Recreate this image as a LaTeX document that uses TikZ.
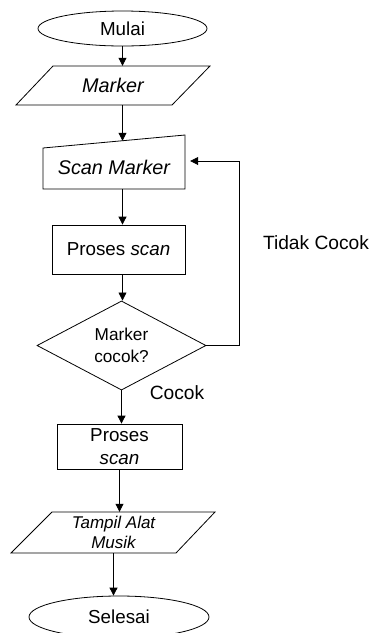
\documentclass[tikz,border=0pt]{standalone}
\usepackage{fontspec}
\setmainfont{Liberation Sans}
\usetikzlibrary{shapes.geometric,arrows.meta}

\begin{document}
\begin{tikzpicture}[
  x=1pt, y=-1pt,
  base/.style={inner sep=0pt, align=center, font=\fontsize{18.8}{23}\selectfont},
  outline/.style={draw, line width=0.8pt},
  term/.style={base, outline, ellipse},
  procbox/.style={base, outline, rectangle},
  decision/.style={base, outline, diamond, font=\fontsize{17.2}{22}\selectfont},
  slanted/.style={base, rectangle},
  arr/.style={-{Triangle[width=8pt,length=8pt]}, line width=0.8pt},
  lbl/.style={inner sep=0pt, font=\fontsize{19.2}{23}\selectfont}
]
% canvas
\useasboundingbox (0,0) rectangle (371,633);

% start / end
\node[term, minimum width=169pt, minimum height=35pt] (mulai) at (122.5,28.5) {Mulai};

% input: Marker
\draw[outline] (53,66) -- (210,66) -- (172,105) -- (16,105) -- cycle;
\node[slanted, minimum width=120pt, minimum height=39pt, font=\fontsize{19.8}{23}\selectfont\itshape] (marker) at (113,85.5) {Marker};

% manual input: Scan Marker
\draw[outline] (43,148) -- (185,135) -- (185,189) -- (43,189) -- cycle;
\node[slanted, minimum width=142pt, minimum height=48pt, text height=22pt, text depth=4pt,
      font=\fontsize{19.8}{23}\selectfont\itshape] (scan) at (114,165) {Scan Marker};

% process
\node[procbox, minimum width=133pt, minimum height=49pt] (proses) at (118.5,249.5) {Proses \textit{scan}};

% decision
\node[decision, minimum width=169pt, minimum height=67pt] (cek) at (121.5,345.5) {Marker\\cocok?};

% second process
\node[procbox, minimum width=125pt, minimum height=45pt] (proses2) at (119.5,446.5) {Proses\\\textit{scan}};

% output: Tampil Alat Musik
\draw[outline] (52,512) -- (215,512) -- (176,553) -- (11,553) -- cycle;
\node[slanted, minimum width=120pt, minimum height=41pt, font=\fontsize{17}{20}\selectfont\itshape] (tampil) at (113.5,532.5) {Tampil Alat\\Musik};

\node[term, minimum width=180pt, minimum height=42pt] (selesai) at (119,617) {Selesai};

% connectors
\draw[arr] (mulai.south) -- (mulai.south |- marker.north);
\draw[arr] (mulai.south |- marker.south) -- (mulai.south |- scan.north);
\draw[arr] (mulai.south |- scan.south) -- (mulai.south |- proses.north);
\draw[arr] (mulai.south |- proses.south) -- (mulai.south |- cek.north);
\draw[arr] (cek.south) -- (cek.south |- proses2.north);
\draw[arr] (proses2.south) -- (proses2.south |- tampil.north);
\draw[arr] (tampil.south) -- (tampil.south |- selesai.north);

% loop back when the marker does not match
\coordinate (loop) at (239,161);
\draw[arr] (cek.east) -| (loop) -- ([xshift=5pt]scan.east |- loop);

% branch labels
\node[lbl] (tidak) at (316,243) {Tidak Cocok};
\node[lbl] (cocok) at (177,393) {Cocok};
\end{tikzpicture}
\end{document}
